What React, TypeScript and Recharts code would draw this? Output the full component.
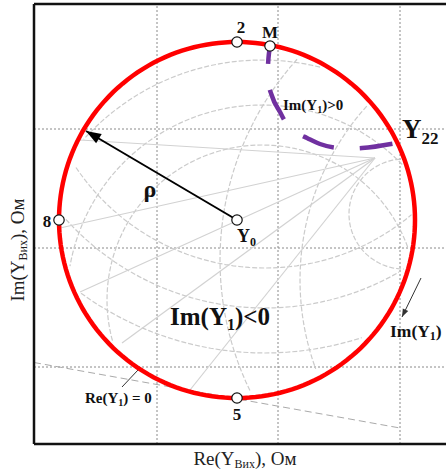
import React from 'react';
import { ComposedChart, Line, Scatter, XAxis, YAxis, ReferenceLine, Label } from 'recharts';

const FONT = "'Liberation Serif', 'Times New Roman', serif";

// ---- data (chart units) ----
const circleCenter = { x: 2.03, y: 2.24 };
const rho = 1.78;

const markedNames = ['2', 'M', '8', '5', 'Y0'];
const markedX = [2.03, 2.36, 0.25, 2.03, 2.03];
const markedY = [4.02, 3.98, 2.24, 0.46, 2.24];

const locusX = [2.36, 2.34, 2.34, 2.38, 2.46, 2.54, 2.63, 2.73, 2.86, 3.04, 3.16, 3.28, 3.62];
const locusY = [3.97, 3.79, 3.64, 3.48, 3.32, 3.18, 3.11, 3.06, 3.0, 2.96, 2.955, 2.96, 3.01];

const rhoArrow = [{ x: 2.03, y: 2.24 }, { x: 0.52, y: 3.13 }];
const imArrow = [{ x: 3.87, y: 1.66 }, { x: 3.68, y: 1.27 }];
const reLeader = [{ x: 0.88, y: 0.57 }, { x: 1.04, y: 0.74 }];
const reZeroLine = [{ x: 0, y: 0.815 }, { x: 3.66, y: 0.16 }];

const gridX = [1.23, 2.44, 3.66];
const gridY = [3.15, 1.96, 0.77];

// faint background chart arcs: centers and radii
const arcCX = [2.31, 2.31, 2.31, 2.28, 2.28, 2.28, 5.26, 4.86, 3.7];
const arcCY = [4.04, 4.04, 4.04, 1.44, 1.44, 1.44, 1.64, 1.84, 2.3];
const arcR = [2.28, 2.68, 3.13, 1.55, 1.95, 2.4, 2.6, 3.0, 0.55];

const spokeHub = { x: 3.41, y: 2.86 };
const spokeEndX = [0.46, 0.26, 0.46, 0.88, 1.56];
const spokeEndY = [3.04, 2.16, 1.52, 1.01, 0.54];

const labelKeys = ['2', 'M', '8', '5', 'Y0', 'rho', 'imPos', 'Y22', 'imNeg', 'imY1', 'reZero'];
const labelX = [2.07, 2.36, 0.13, 2.03, 2.03, 1.16, 2.49, 3.68, 1.36, 3.56, 0.51];
const labelY = [4.11, 4.06, 2.17, 0.24, 2.02, 2.47, 3.34, 3.06, 1.19, 1.07, 0.41];

// ---- derived tables ----
const circlePts = (cx: number, cy: number, r: number, clip: boolean) => {
  const pts: { x: number; y: number | null }[] = [];
  for (let a = 0; a <= 360; a += 2) {
    const t = (a * Math.PI) / 180;
    const x = cx + r * Math.cos(t);
    const y = cy + r * Math.sin(t);
    const inside = Math.hypot(x - circleCenter.x, y - circleCenter.y) < rho - 0.03;
    pts.push({ x, y: !clip || inside ? y : null });
  }
  return pts;
};

const mainCircle = circlePts(circleCenter.x, circleCenter.y, rho, false);
const bgArcs = arcR.map((r, i) => circlePts(arcCX[i], arcCY[i], r, true));
const spokes = spokeEndX.map((x, i) => [spokeHub, { x, y: spokeEndY[i] }]);
const marked = markedNames.map((name, i) => ({ x: markedX[i], y: markedY[i], name }));
const locus = locusX.map((x, i) => ({ x, y: locusY[i] }));
const labels = labelKeys.map((k, i) => ({ x: labelX[i], y: labelY[i], k }));

const headOf = (seg: { x: number; y: number }[], len: number, w: number, color: string) => {
  const a = seg[0];
  const b = seg[1];
  const angle = (Math.atan2(-(b.y - a.y), b.x - a.x) * 180) / Math.PI;
  return { x: b.x, y: b.y, angle, len, w, color };
};
const heads = [headOf(rhoArrow, 15, 5.5, '#000'), headOf(imArrow, 8, 3, '#333')];

const B = { fontFamily: FONT, fontWeight: 700, fill: '#111' } as const;

const renderLabel = (props: any) => {
  const { cx, cy, payload } = props;
  switch (payload.k) {
    case '2':
    case 'M':
    case '8':
    case '5':
      return (
        <text x={cx} y={cy} textAnchor="middle" fontSize={17} {...B}>
          {payload.k}
        </text>
      );
    case 'Y0':
      return (
        <text x={cx} y={cy} fontSize={18} {...B}>
          Y<tspan fontSize={12} dy={4}>0</tspan>
        </text>
      );
    case 'rho':
      return (
        <text x={cx} y={cy} textAnchor="middle" fontSize={24} {...B}>
          ρ
        </text>
      );
    case 'imPos':
      return (
        <text x={cx} y={cy} fontSize={15} {...B}>
          Im(Y<tspan fontSize={10} dy={3}>1</tspan>
          <tspan dy={-3}>)&gt;0</tspan>
        </text>
      );
    case 'Y22':
      return (
        <text x={cx} y={cy} fontSize={27} {...B}>
          Y<tspan fontSize={17} dy={6}>22</tspan>
        </text>
      );
    case 'imNeg':
      return (
        <text x={cx} y={cy} fontSize={25} {...B}>
          Im(Y<tspan fontSize={16} dy={5}>1</tspan>
          <tspan dy={-5}>)&lt;0</tspan>
        </text>
      );
    case 'imY1':
      return (
        <text x={cx} y={cy} fontSize={17.5} {...B}>
          Im(Y<tspan fontSize={12} dy={3}>1</tspan>
          <tspan dy={-3}>)</tspan>
        </text>
      );
    case 'reZero':
      return (
        <text x={cx} y={cy} fontSize={15} {...B}>
          Re(Y<tspan fontSize={10} dy={3}>1</tspan>
          <tspan dy={-3}>) = 0</tspan>
        </text>
      );
    default:
      return <g />;
  }
};

const renderDot = (props: any) => (
  <circle cx={props.cx} cy={props.cy} r={5.2} fill="#fff" stroke="#111" strokeWidth={1.2} />
);

const renderHead = (props: any) => {
  const { cx, cy, payload } = props;
  const { len, w, angle, color } = payload;
  return (
    <polygon
      points={`${cx},${cy} ${cx - len},${cy - w} ${cx - len},${cy + w}`}
      fill={color}
      transform={`rotate(${angle}, ${cx}, ${cy})`}
    />
  );
};

const XTitle = () => (
  <text x={245} y={465} textAnchor="middle" fontFamily={FONT} fontSize={19} fill="#222">
    Re(Y<tspan fontSize={12} dy={3}>Вих</tspan>
    <tspan dy={-3}>), Ом</tspan>
  </text>
);

const YTitle = () => (
  <text
    x={24}
    y={250}
    transform="rotate(-90, 24, 250)"
    textAnchor="middle"
    fontFamily={FONT}
    fontSize={19}
    fill="#222"
  >
    Im(Y<tspan fontSize={12} dy={3}>Вих</tspan>
    <tspan dy={-3}>), Ом</tspan>
  </text>
);

export default function App() {
  return (
    <div style={{ position: 'absolute', left: 0, top: 0, width: 446, height: 470, overflow: 'hidden', background: '#fff' }}>
      <ComposedChart width={450} height={470} margin={{ top: 4, right: 0, bottom: 0, left: 0 }}>
        <XAxis
          type="number"
          dataKey="x"
          domain={[0, 4.16]}
          allowDataOverflow
          tick={false}
          tickLine={false}
          height={26}
          axisLine={{ stroke: '#111', strokeWidth: 2.5 }}
        >
          <Label content={XTitle} />
        </XAxis>
        <YAxis
          type="number"
          dataKey="y"
          domain={[0, 4.4]}
          allowDataOverflow
          tick={false}
          tickLine={false}
          width={34}
          axisLine={{ stroke: '#111', strokeWidth: 2.5 }}
        >
          <Label content={YTitle} />
        </YAxis>
        <ReferenceLine y={4.4} stroke="#111" strokeWidth={2.5} />
        {gridX.map((x) => (
          <ReferenceLine key={'gx' + x} x={x} stroke="#8a8a8a" strokeDasharray="2 2" strokeWidth={1} />
        ))}
        {gridY.map((y) => (
          <ReferenceLine key={'gy' + y} y={y} stroke="#8a8a8a" strokeDasharray="2 2" strokeWidth={1} />
        ))}
        {bgArcs.map((pts, i) => (
          <Line
            key={'arc' + i}
            data={pts}
            dataKey="y"
            type="linear"
            stroke="#cbcbcb"
            strokeWidth={1.2}
            strokeDasharray="5 2"
            dot={false}
            activeDot={false}
            isAnimationActive={false}
          />
        ))}
        {spokes.map((pts, i) => (
          <Line
            key={'sp' + i}
            data={pts}
            dataKey="y"
            type="linear"
            stroke="#d2d2d2"
            strokeWidth={1.2}
            dot={false}
            activeDot={false}
            isAnimationActive={false}
          />
        ))}
        <Line
          data={reZeroLine}
          dataKey="y"
          type="linear"
          stroke="#aaaaaa"
          strokeWidth={1}
          strokeDasharray="7 4"
          dot={false}
          activeDot={false}
          isAnimationActive={false}
        />
        <Line
          data={reLeader}
          dataKey="y"
          type="linear"
          stroke="#333"
          strokeWidth={1}
          dot={false}
          activeDot={false}
          isAnimationActive={false}
        />
        <Line
          data={imArrow}
          dataKey="y"
          type="linear"
          stroke="#333"
          strokeWidth={1}
          dot={false}
          activeDot={false}
          isAnimationActive={false}
        />
        <Line
          data={mainCircle}
          dataKey="y"
          type="linear"
          stroke="#ff0000"
          strokeWidth={4.5}
          dot={false}
          activeDot={false}
          isAnimationActive={false}
        />
        <Line
          data={locus}
          dataKey="y"
          type="monotoneX"
          stroke="#7030a0"
          strokeWidth={4.5}
          strokeDasharray="33 26"
          strokeDashoffset={16}
          dot={false}
          activeDot={false}
          isAnimationActive={false}
        />
        <Line
          data={rhoArrow}
          dataKey="y"
          type="linear"
          stroke="#000"
          strokeWidth={2}
          dot={false}
          activeDot={false}
          isAnimationActive={false}
        />
        <Scatter data={heads} shape={renderHead} isAnimationActive={false} />
        <Scatter data={marked} shape={renderDot} isAnimationActive={false} />
        <Scatter data={labels} shape={renderLabel} isAnimationActive={false} />
      </ComposedChart>
    </div>
  );
}
